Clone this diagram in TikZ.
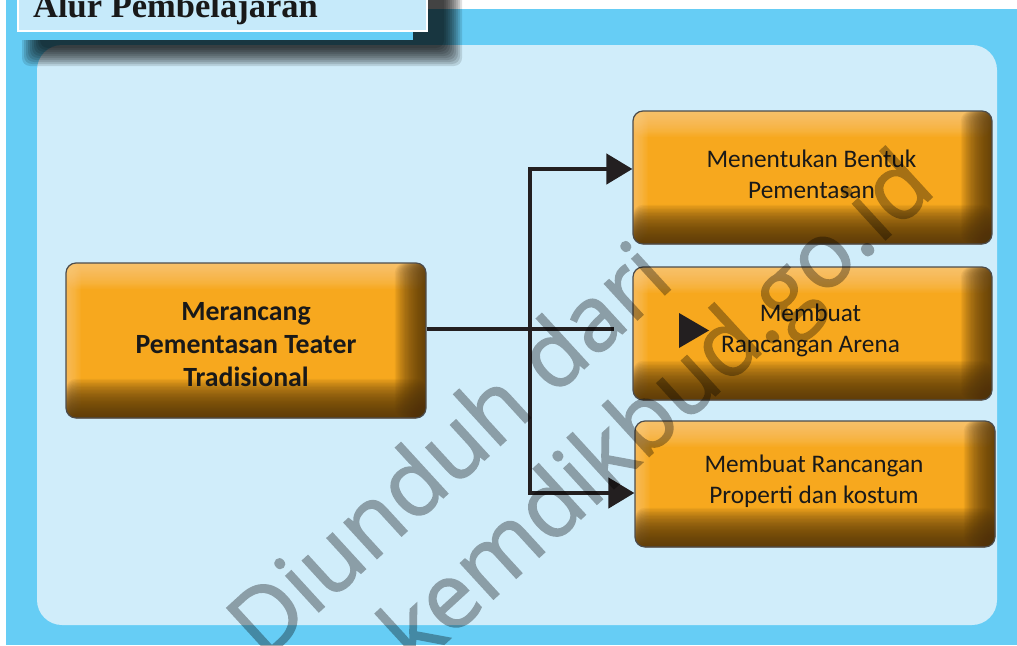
\documentclass[tikz,border=0pt]{standalone}
\usepackage{fontspec}
\setmainfont{Carlito}
\newfontfamily\titlefont{Liberation Serif}
\newfontfamily\markfont[FakeBold=1.6]{Open Sans}
\usepackage{tikz}
\usetikzlibrary{arrows.meta,positioning}
\definecolor{framebg}{HTML}{66CDF5}
\definecolor{panelbg}{HTML}{D0EDFA}
\definecolor{titlebg}{HTML}{C6EAFA}
\definecolor{boxorange}{HTML}{F7A81E}
\definecolor{boxlight}{HTML}{FDD290}
\definecolor{boxdark}{HTML}{4E3208}
\definecolor{linkdark}{HTML}{231F20}

\tikzset{
  taskbox/.style={draw=black!70, line width=1.2pt, rounded corners=10pt, fill=boxorange,
    minimum width=359pt, minimum height=133pt,
    path picture={
      \foreach \i in {1,...,20}
        \fill[boxlight, fill opacity=0.06] ([yshift=-\i*1.3pt]path picture bounding box.north west) rectangle (path picture bounding box.north east);
      \foreach \i in {1,...,12}
        \fill[boxlight, fill opacity=0.06] ([xshift=\i*1.25pt]path picture bounding box.north west) rectangle (path picture bounding box.south west);
      \foreach \i in {1,...,24}
        \fill[boxdark, fill opacity=0.065] ([xshift=-\i*1.3pt]path picture bounding box.north east) rectangle (path picture bounding box.south east);
      \foreach \i in {1,...,28}
        \fill[boxdark, fill opacity=0.065] ([yshift=\i*1.4pt]path picture bounding box.south west) rectangle (path picture bounding box.south east);
    }},
  boxlabel/.style={align=center, text=black!90, inner sep=0pt, font=\fontsize{25.3}{31}\selectfont},
  link/.style={draw=linkdark, line width=4.5pt},
  watermark/.style={font=\markfont\fontsize{91}{91}\selectfont, text=black,
    rotate=42.5, inner sep=0pt, anchor=base west}
}

\begin{document}
\begin{tikzpicture}[x=1pt, y=-1pt, >={Triangle[length=26pt,width=30pt]}]
  \useasboundingbox (0,0) rectangle (1017,645);
  \fill[white] (0,0) rectangle (1017,645);
  \fill[framebg] (6,9) rectangle (1017,645);
  \fill[panelbg, rounded corners=25pt] (37,45) rectangle (997,625);
  \foreach \s in {0,2,...,18}
    \fill[black, opacity=0.12, rounded corners=8pt] (22+\s,-30) rectangle (462-\s,66-\s);
  \fill[framebg] (6,-5) rectangle (413,40);
  \filldraw[fill=titlebg, draw=white, line width=2.5pt] (18,-5) rectangle (427,31);
  \node[anchor=base west, inner sep=0pt, text=black!90,
        font=\titlefont\bfseries\fontsize{34.5}{40}\selectfont] (title) at (33,17) {Alur Pembelajaran};

  \node[taskbox, minimum width=360pt, minimum height=155pt] (rancang) at (246,340.5) {};
  \node[taskbox] (bentuk) at (812.5,177.5) {};
  \node[taskbox] (arena) at (812.5,333.5) {};
  \node[taskbox, minimum width=360pt, minimum height=126pt] (properti) at (815,484) {};

  \node[boxlabel, font=\bfseries\fontsize{27.8}{33}\selectfont] (rancangtext) at (246,344.5)
        {Merancang\\Pementasan Teater\\Tradisional};
  \node[boxlabel] (bentuktext) at (811.5,174) {Menentukan Bentuk\\Pementasan};
  \node[boxlabel] (arenatext) at (810.5,330) {Membuat\\Rancangan Arena};
  \node[boxlabel] (propertitext) at (814,481) {Membuat Rancangan\\Properti dan kostum};

  \coordinate (fork) at (530,329);
  \coordinate (forktop) at (530,169);
  \coordinate (forkbot) at (530,493);
  \coordinate (midend) at (614,329);
  \draw[link] (rancang.east |- fork) -- (fork) -- (midend);
  \draw[link, ->] (forkbot) -- (forktop) -- (forktop -| bentuk.west);
  \draw[link, ->] (fork) |- (properti.west |- forkbot);
  \fill[linkdark] (679,313) -- (709,330.5) -- (679,348) -- cycle;

  \begin{scope}[transparency group, opacity=0.33]
    \node[watermark] (markone) at (264,662) {Diunduh dari};
    \node[watermark] (marktwo) at (416,670) {kemdikbud.go.id};
  \end{scope}
\end{tikzpicture}
\end{document}
